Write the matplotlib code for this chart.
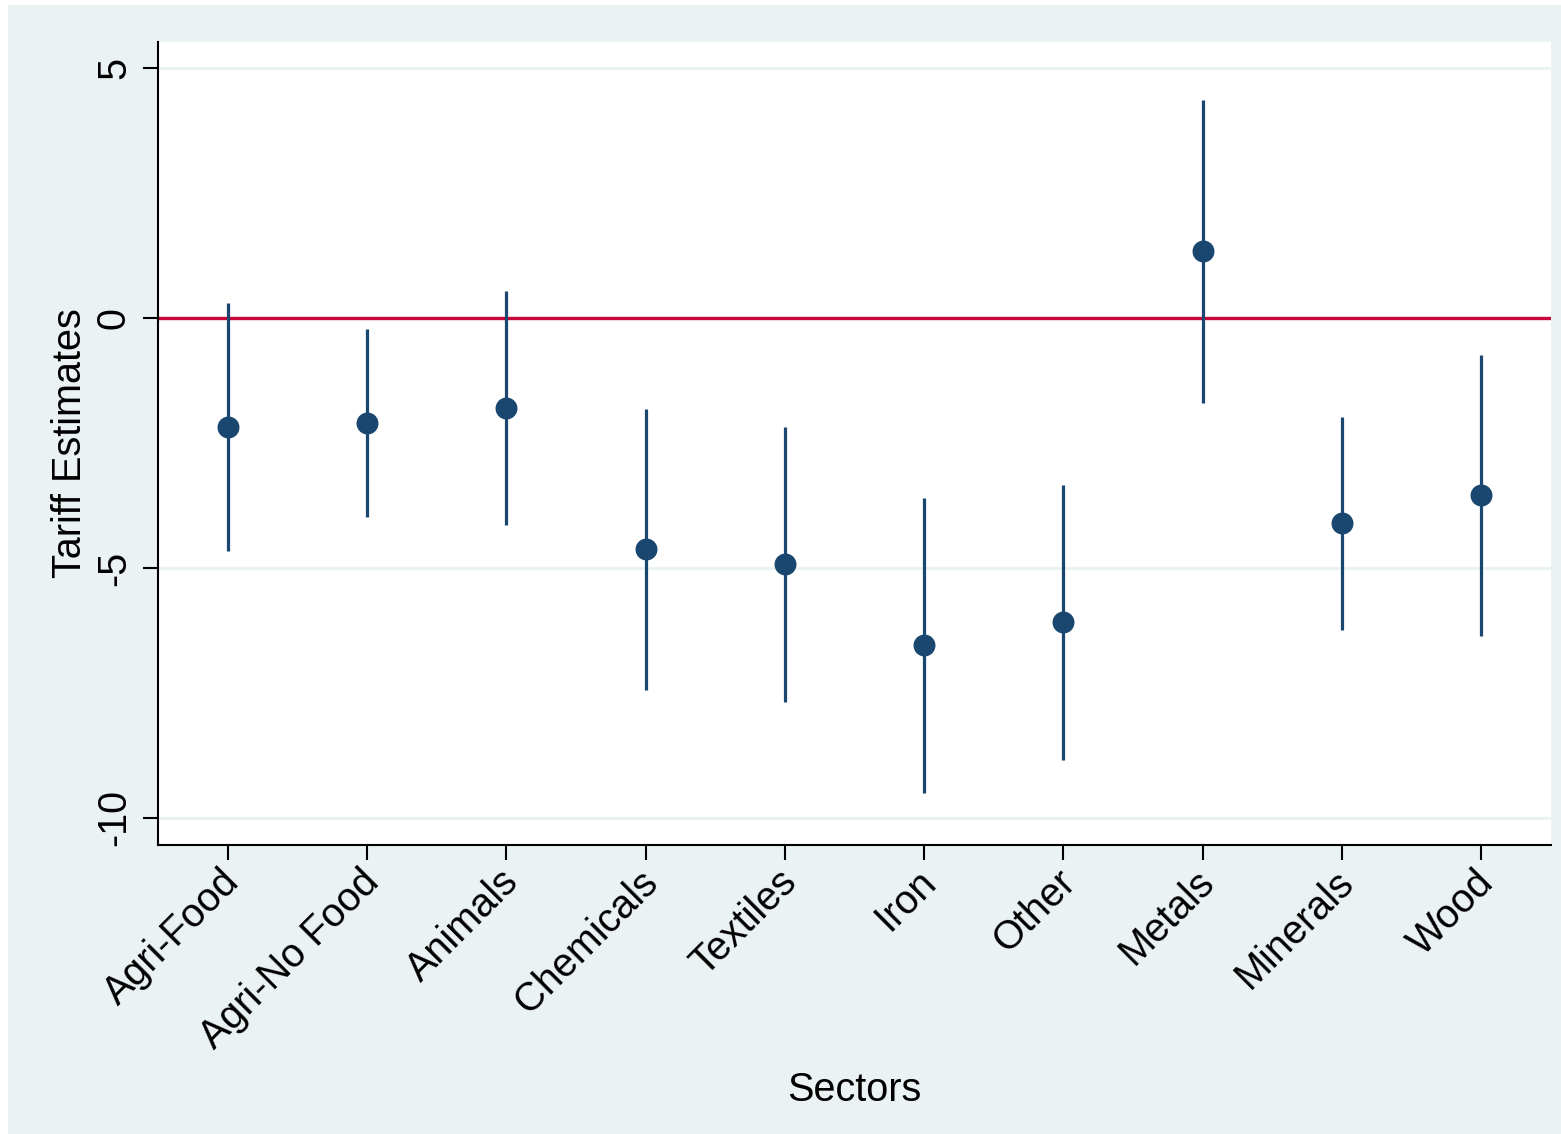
import matplotlib
matplotlib.use("Agg")
import matplotlib.pyplot as plt
import matplotlib.transforms as mtransforms
from matplotlib.patches import Rectangle

plt.rcParams['font.family'] = ['Liberation Sans', 'DejaVu Sans']

# Sector-level tariff coefficient estimates with confidence bounds
sectors = ["Agri-Food", "Agri-No Food", "Animals", "Chemicals", "Textiles",
           "Iron", "Other", "Metals", "Minerals", "Wood"]
estimate = [-2.17, -2.10, -1.80, -4.62, -4.92, -6.54, -6.08, 1.34, -4.10, -3.54]
ci_lower = [-4.65, -3.98, -4.14, -7.44, -7.67, -9.49, -8.84, -1.69, -6.24, -6.35]
ci_upper = [0.31, -0.21, 0.54, -1.81, -2.18, -3.59, -3.33, 4.36, -1.97, -0.73]
y_ticks = [5, 0, -5, -10]
y_tick_labels = ["5", "0", "-5", "-10"]

NAVY = "#1A476F"
RED = "#C8073A"
BG = "#EAF2F3"

fig = plt.figure(figsize=(15.61, 11.34), dpi=100, facecolor="white")
# graph region background
bg = Rectangle((8 / 1561, 0), 1 - 8 / 1561, 1 - 5 / 1134,
               transform=fig.transFigure, facecolor=BG, edgecolor="none")
fig.add_artist(bg)
bg.set_zorder(-10)

ax = fig.add_axes([158 / 1561, 1 - 845 / 1134, (1551 - 158) / 1561, (845 - 42) / 1134])
ax.set_zorder(5)
ax.set_facecolor("white")

x = list(range(1, len(sectors) + 1))

for yt in y_ticks:
    ax.axhline(yt, color=BG, lw=2.3, zorder=1)
ax.axhline(0, color=RED, lw=2.4, zorder=2)

ax.vlines(x, ci_lower, ci_upper, color=NAVY, lw=2.3, zorder=3)
ax.plot(x, estimate, "o", color=NAVY, markersize=15.8, markeredgewidth=0, zorder=4)

ax.set_xlim(0.5, 10.5)
ax.set_ylim(-10.54, 5.52)

ax.set_xticks(x)
ax.set_xticklabels(sectors, rotation=45, ha="right", va="center",
                   rotation_mode="anchor", fontsize=28.5)
ax.set_yticks(y_ticks)
ax.set_yticklabels(y_tick_labels, rotation=90, va="center", fontsize=28.5)

ax.tick_params(axis="x", length=11, width=1.5, pad=10, color="black")
ax.tick_params(axis="y", length=11, width=1.5, pad=7, color="black")

# nudge the slanted category labels so their ends sit just right of each tick
shift = mtransforms.ScaledTranslation(6 / 100, -2 / 100, fig.dpi_scale_trans)
for lbl in ax.get_xticklabels():
    lbl.set_transform(lbl.get_transform() + shift)

for side in ["top", "right"]:
    ax.spines[side].set_visible(False)
for side in ["left", "bottom"]:
    ax.spines[side].set_linewidth(1.5)
    ax.spines[side].set_color("black")

ax.set_xlabel("Sectors", fontsize=28.5, va="center")
ax.xaxis.set_label_coords(0.5, -(1090 - 845) / (845 - 42))
ax.set_ylabel("Tariff Estimates", fontsize=28.5, va="center")
ax.yaxis.set_label_coords(-(158 - 70) / (1551 - 158), 0.5)

fig.savefig("out.png", dpi=100, facecolor=fig.get_facecolor())
